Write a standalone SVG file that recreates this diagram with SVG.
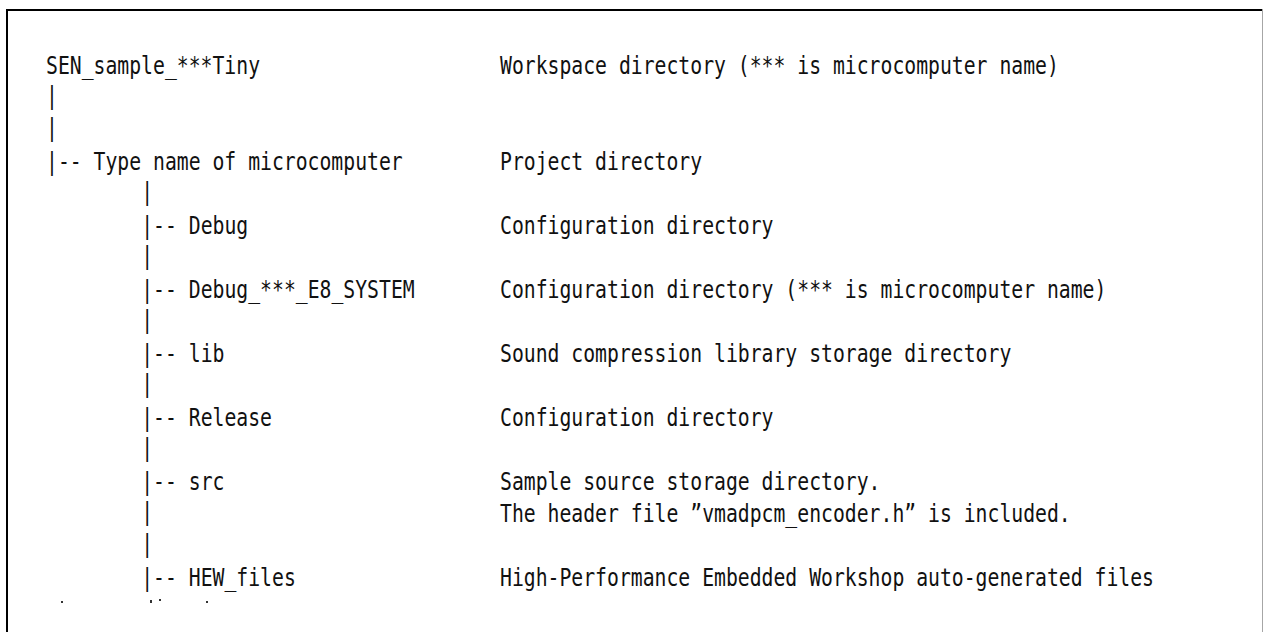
<svg xmlns="http://www.w3.org/2000/svg" width="1263" height="632" viewBox="0 0 1263 632">
<style>
text{font-family:"DejaVu Sans Mono","Liberation Mono",monospace;font-size:25px;fill:#111;}
.frame{fill:#000;}
.frameR{fill:#a6a6a6;}
.dot{fill:#333;}
</style>
<rect x="0" y="0" width="1263" height="632" fill="#fff"/>
<g id="frame">
<rect class="frame" x="6" y="9" width="1256" height="2"/>
<rect class="frame" x="6" y="9" width="2" height="623"/>
<rect class="frameR" x="1262" y="9" width="1" height="623"/>
</g>
<g id="connectors">
<text transform="translate(46,104) scale(0.7907,1)">|</text>
<text transform="translate(46,136) scale(0.7907,1)">|</text>
<text transform="translate(141.2,200) scale(0.7907,1)">|</text>
<text transform="translate(141.2,264) scale(0.7907,1)">|</text>
<text transform="translate(141.2,328) scale(0.7907,1)">|</text>
<text transform="translate(141.2,392) scale(0.7907,1)">|</text>
<text transform="translate(141.2,456) scale(0.7907,1)">|</text>
<text transform="translate(141.2,520) scale(0.7907,1)">|</text>
<text transform="translate(141.2,552) scale(0.7907,1)">|</text>
</g>
<g id="node-workspace">
<text transform="translate(46,74) scale(0.7907,1)">SEN_sample_***Tiny</text>
<text transform="translate(500,74) scale(0.7907,1)">Workspace directory (*** is microcomputer name)</text>
</g>
<g id="node-project">
<text transform="translate(46,170) scale(0.7907,1)">|-- Type name of microcomputer</text>
<text transform="translate(500,170) scale(0.7907,1)">Project directory</text>
</g>
<g id="node-debug">
<text transform="translate(141.2,234) scale(0.7907,1)">|-- Debug</text>
<text transform="translate(500,234) scale(0.7907,1)">Configuration directory</text>
</g>
<g id="node-debug-e8">
<text transform="translate(141.2,298) scale(0.7907,1)">|-- Debug_***_E8_SYSTEM</text>
<text transform="translate(500,298) scale(0.7907,1)">Configuration directory (*** is microcomputer name)</text>
</g>
<g id="node-lib">
<text transform="translate(141.2,362) scale(0.7907,1)">|-- lib</text>
<text transform="translate(500,362) scale(0.7907,1)">Sound compression library storage directory</text>
</g>
<g id="node-release">
<text transform="translate(141.2,426) scale(0.7907,1)">|-- Release</text>
<text transform="translate(500,426) scale(0.7907,1)">Configuration directory</text>
</g>
<g id="node-src">
<text transform="translate(141.2,490) scale(0.7907,1)">|-- src</text>
<text transform="translate(500,490) scale(0.7907,1)">Sample source storage directory.</text>
<text transform="translate(500,522) scale(0.7907,1)">The header file ”vmadpcm_encoder.h” is included.</text>
</g>
<g id="node-hew">
<text transform="translate(141.2,586) scale(0.7907,1)">|-- HEW_files</text>
<text transform="translate(500,586) scale(0.7907,1)">High-Performance Embedded Workshop auto-generated files</text>
</g>
<g id="clipped-marks">
<rect class="dot" x="61" y="601" width="2" height="2"/>
<rect class="dot" x="150" y="600" width="2" height="3"/>
<rect class="dot" x="159" y="599" width="2" height="2"/>
<rect class="dot" x="206" y="601" width="2" height="2"/>
</g>
</svg>
